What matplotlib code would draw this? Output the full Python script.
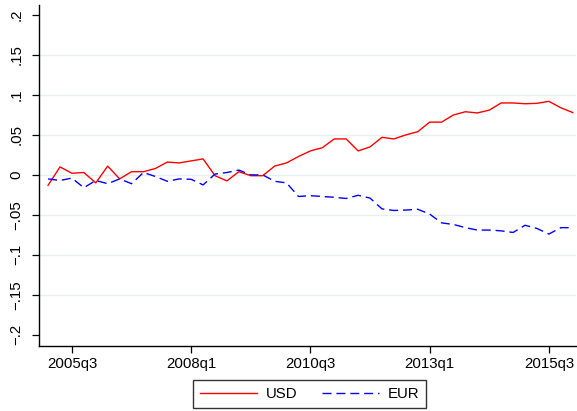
import matplotlib
matplotlib.use("Agg")
import matplotlib.pyplot as plt
import pandas as pd

plt.rcParams['font.family'] = ['Liberation Sans', 'DejaVu Sans']

# quarterly series, 2005q1 .. 2016q1
quarters = [str(p).replace('Q', 'q') for p in pd.period_range('2005Q1', '2016Q1', freq='Q')]

usd = [-0.013, 0.010, 0.002, 0.003, -0.010, 0.011, -0.005, 0.004,
       0.004, 0.008, 0.016, 0.015, 0.0175, 0.020, -0.001, -0.0075,
       0.004, -0.001, -0.001, 0.011, 0.015, 0.023, 0.030, 0.034,
       0.045, 0.045, 0.030, 0.035, 0.047, 0.045, 0.050, 0.054,
       0.066, 0.066, 0.075, 0.079, 0.0775, 0.081, 0.090, 0.090,
       0.089, 0.0895, 0.092, 0.084, 0.078]

eur = [-0.005, -0.007, -0.004, -0.016, -0.007, -0.011, -0.005, -0.011,
       0.003, -0.002, -0.008, -0.005, -0.0055, -0.0125, 0.001, 0.003,
       0.006, 0.000, 0.000, -0.008, -0.010, -0.027, -0.026, -0.027,
       -0.028, -0.0295, -0.0255, -0.029, -0.0425, -0.0445, -0.044, -0.043,
       -0.049, -0.060, -0.062, -0.066, -0.069, -0.069, -0.070, -0.072,
       -0.063, -0.067, -0.074, -0.066, -0.066]

xtick_labels = ['2005q3', '2008q1', '2010q3', '2013q1', '2015q3']
yticks = [-0.2, -0.15, -0.1, -0.05, 0, 0.05, 0.1, 0.15, 0.2]
ytick_labels = ['\u2212.2', '\u2212.15', '\u2212.1', '\u2212.05', '0', '.05', '.1', '.15', '.2']

fig = plt.figure(figsize=(5.77, 4.11), dpi=100)
ax = fig.add_axes([0.0672, 0.1582, 0.9310, 0.8296])

x = list(range(len(quarters)))
for y in yticks[1:-1]:
    ax.axhline(y, color='#e6eef0', lw=0.9, zorder=0)

ax.plot(x, usd, color='#ff0000', lw=1.0, label='USD')
ax.plot(x, eur, color='#0000ff', lw=1.0, linestyle=(0, (6.5, 3.5)), label='EUR')

ax.set_xlim(-0.78, 44.27)
ax.set_ylim(-0.214, 0.2125)
ax.set_xticks([quarters.index(q) for q in xtick_labels])
ax.set_xticklabels(xtick_labels, fontsize=10.8)
ax.set_yticks(yticks)
ax.set_yticklabels(ytick_labels, fontsize=10.8, rotation=90, va='center')

for s in ['top', 'right']:
    ax.spines[s].set_visible(False)
for s in ['left', 'bottom']:
    ax.spines[s].set_linewidth(1.0)
ax.tick_params(direction='out', length=5, width=0.9, colors='black')
ax.tick_params(axis='x', pad=3)
ax.tick_params(axis='y', pad=6)

leg = fig.legend(loc='center', bbox_to_anchor=(0.5364, 0.0409), ncol=2,
                 fontsize=10.8, frameon=True, fancybox=False, edgecolor='black',
                 handlelength=3.8, handletextpad=0.6, columnspacing=1.6,
                 borderpad=0.45)
leg.get_frame().set_linewidth(1.0)

fig.savefig('out.png', dpi=100)
